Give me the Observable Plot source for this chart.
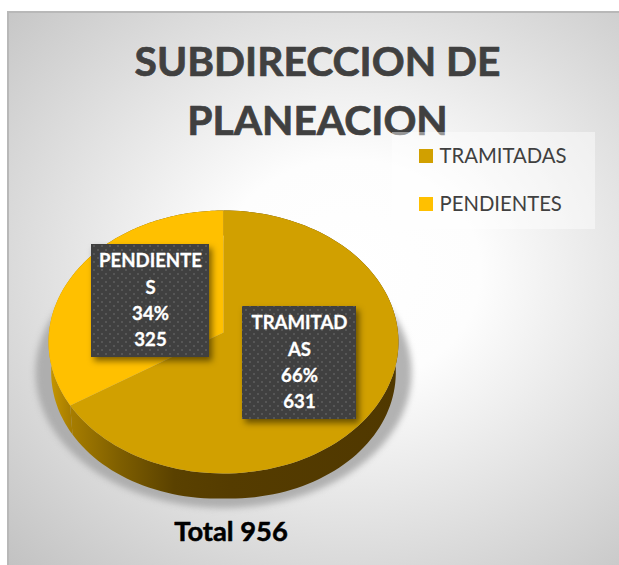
<!DOCTYPE html>
<html><head><meta charset="utf-8">
<script src="https://cdn.jsdelivr.net/npm/d3@7"></script>
<script src="https://cdn.jsdelivr.net/npm/@observablehq/plot@0.6"></script>
<style>html,body{margin:0;padding:0;background:#fff}svg{display:block}</style>
</head><body><div id="chart"></div>
<script>
const categories = ["TRAMITADAS", "PENDIENTES"];
const counts = [631, 325];
const shares = [66, 34];
const wrappedNames = [["TRAMITAD", "AS"], ["PENDIENTE", "S"]];
const titleLines = ["SUBDIRECCION DE", "PLANEACION"];
const totalLabel = "Total 956";
const faceColors = ["#d1a000", "#ffc000"];

// Perspective projection of the pie disc: unit circle -> page
const cx = 223, cy = 332, A = 174.5, B = 130.8, k = -0.0722;
const project = (t, r = 1) => {
  const u = r * Math.sin(t), v = -r * Math.cos(t), w = 1 + k * v;
  return [cx + A * u / w, cy + B * v / w];
};
const arcs = d3.pie().sort(null)(counts);
const steps = a => d3.range(0, 121).map(i => a.startAngle + (a.endAngle - a.startAngle) * i / 120);

const facePts = arcs.flatMap((a, i) => [
  {i, x: cx, y: cy},
  ...steps(a).map(t => { const [x, y] = project(t); return {i, x, y}; })
]);
const sideAt = t => {
  const [x, y] = project(t);
  return [cx + (x - cx) * 0.985, y + 25 + 5 * Math.abs(Math.sin(t))];
};
const sidePts = arcs.flatMap((a, i) => [
  ...steps(a).map(t => { const [x, y] = project(t); return {i, x, y}; }),
  ...steps(a).reverse().map(t => { const [x, y] = sideAt(t); return {i, x, y}; })
]);
const shadowPts = d3.range(0, 121).map(i => {
  const t = i / 120 * 2 * Math.PI, [x, y] = project(t);
  return {x: cx + (x - cx) * 1.075, y: 372 + (y - 341.5) * 1.03};
});

const defs = () => {
  const svg = d3.create("svg:defs");
  const g = svg.append("linearGradient").attr("id", "side").attr("gradientUnits", "userSpaceOnUse")
    .attr("x1", 48).attr("x2", 398).attr("y1", 0).attr("y2", 0);
  [[0, "#c99800"], [0.06, "#a87e00"], [0.2, "#7f5f00"], [0.36, "#5a4100"], [0.52, "#553c00"], [1, "#503800"]]
    .forEach(([o, c]) => g.append("stop").attr("offset", o).attr("stop-color", c));
  const p = svg.append("pattern").attr("id", "dots").attr("patternUnits", "userSpaceOnUse")
    .attr("width", 8).attr("height", 8);
  p.append("rect").attr("width", 8).attr("height", 8).attr("fill", "#404040");
  [[1, 1], [5, 5]].forEach(([x, y]) => p.append("rect").attr("x", x).attr("y", y).attr("width", 2).attr("height", 2).attr("fill", "#565656"));
  return svg.node();
};

const labelBoxes = [
  {x1: 242, x2: 356, y1: 306, y2: 419, i: 0},
  {x1: 91, x2: 209, y1: 244, y2: 357, i: 1}
];
const labelLines = labelBoxes.flatMap(b => {
  const lines = [...wrappedNames[b.i], shares[b.i] + "%", String(counts[b.i])];
  const cxb = (b.x1 + b.x2) / 2;
  return lines.map((text, j) => ({text, x: cxb, y: (b.y1 + 17) + j * 26.2}));
});
const legendBox = [{x1: 392, x2: 595, y1: 132, y2: 229}];
const legendRows = categories.map((c, i) => ({c, i, x1: 419, x2: 433, y1: 149 + 48 * i, y2: 163 + 48 * i, tx: 439, ty: 156 + 48 * i}));
const font = "Lato";

const chart = Plot.plot({
  width: 619, height: 565, margin: 0,
  x: {domain: [0, 619], range: [0, 619], axis: null},
  y: {domain: [0, 565], range: [0, 565], axis: null},
  style: {
    background: "linear-gradient(#b8b8b8,#b8b8b8) 7px 11px / 612px 2px no-repeat, linear-gradient(#b8b8b8,#b8b8b8) 7px 11px / 2px 554px no-repeat, radial-gradient(ellipse farthest-corner at 56% 47%, #ffffff 0%, #fdfdfd 27%, #c2c2c2 100%) 7px 11px / 612px 554px no-repeat, #fff",
    fontFamily: font
  },
  marks: [
    defs,
    Plot.line(shadowPts, {x: "x", y: "y", fill: "#a6a6a6", stroke: null, imageFilter: "blur(3px)", fillOpacity: 0.85}),
    Plot.line(sidePts, {x: "x", y: "y", z: "i", fill: "url(#side)", stroke: null}),
    Plot.line(facePts, {x: "x", y: "y", z: "i", fill: d => faceColors[d.i], stroke: null}),
    Plot.text(titleLines, {x: () => 317, y: (d, i) => 62.5 + 59 * i, text: d => d, fontSize: 40.8, fontWeight: 700, fill: "#404040", stroke: "#404040", strokeWidth: 0.7}),
    Plot.rect(legendBox, {x1: "x1", x2: "x2", y1: "y1", y2: "y2", fill: "#fff", fillOpacity: 0.45}),
    Plot.rect(legendRows, {x1: "x1", x2: "x2", y1: "y1", y2: "y2", fill: d => faceColors[d.i]}),
    Plot.text(legendRows, {x: "tx", y: "ty", text: "c", textAnchor: "start", fontSize: 20.3, fill: "#404040"}),
    Plot.rect(labelBoxes, {x1: "x1", x2: "x2", y1: "y1", y2: "y2", fill: "url(#dots)", imageFilter: "drop-shadow(3px 4px 3px rgba(0,0,0,0.5))"}),
    Plot.text(labelLines, {x: "x", y: "y", text: "text", fontSize: 18.6, fontWeight: 700, fill: "#fff", stroke: "#fff", strokeWidth: 0.3}),
    Plot.text([totalLabel], {x: () => 230.5, y: () => 532, text: d => d, fontSize: 27.3, fontWeight: 700, fill: "#000", stroke: "#000", strokeWidth: 0.5})
  ]
});
document.getElementById("chart").append(chart);
</script></body></html>
